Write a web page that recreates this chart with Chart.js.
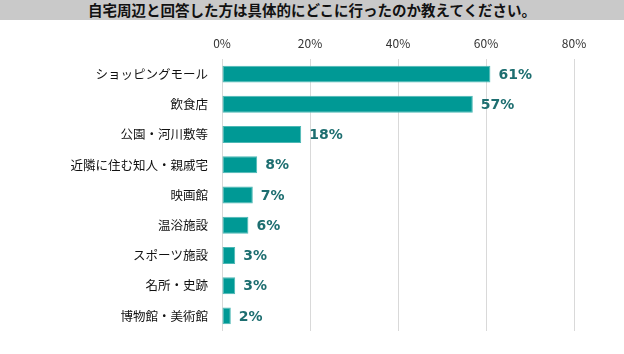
<!DOCTYPE html>
<html lang="ja">
<head>
    <meta charset="UTF-8">
    <title>自宅周辺と回答した方は具体的にどこに行ったのか教えてください。</title>
    <script src="https://cdn.jsdelivr.net/npm/chart.js"></script>
    <style>
        body {
            margin: 0;
            background: #fff;
            font-family: "Noto Sans CJK JP", sans-serif;
        }
        .titre {
            width: 624px;
            height: 20px;
            line-height: 20px;
            background-color: #c9c9c9;
            text-align: center;
            font-weight: bold;
            font-size: 14.5px;
            color: #111;
        }
        .grph {
            position: relative;
            width: 624px;
            height: 334px;
        }
    </style>
</head>
<body>
    <div class="titre">自宅周辺と回答した方は具体的にどこに行ったのか教えてください。</div>
    <div class="grph"><canvas id="myChart"></canvas></div>

    <script>
        // Données
        const categories = ['ショッピングモール', '飲食店', '公園・河川敷等', '近隣に住む知人・親戚宅', '映画館', '温浴施設', 'スポーツ施設', '名所・史跡', '博物館・美術館'];
        const valeurs = [61, 57, 18, 8, 7, 6, 3, 3, 2];
        const ticksX = [0, 20, 40, 60, 80];

        // Étiquettes de valeur à droite des barres
        const etiquettes = {
            id: 'etiquettes',
            afterDatasetsDraw(chart) {
                const ctx = chart.ctx;
                const meta = chart.getDatasetMeta(0);
                ctx.save();
                ctx.font = 'bold 14px "DejaVu Sans"';
                ctx.fillStyle = '#1d6e70';
                ctx.textAlign = 'left';
                ctx.textBaseline = 'middle';
                meta.data.forEach((bar, i) => {
                    ctx.fillText(valeurs[i] + '%', bar.x + 8, bar.y + 1);
                });
                ctx.restore();
            }
        };

        const ctx1 = document.getElementById('myChart').getContext('2d');
        const myChart = new Chart(ctx1, {
            type: 'bar',
            data: {
                labels: categories,
                datasets: [{
                    data: valeurs,
                    backgroundColor: '#009995',
                    borderColor: '#4db8b5',
                    borderWidth: 1,
                    borderSkipped: false,
                    barPercentage: 0.56,
                    categoryPercentage: 1
                }]
            },
            options: {
                indexAxis: 'y',
                responsive: true,
                maintainAspectRatio: false,
                animation: false,
                layout: {
                    padding: { top: 0, right: 50, bottom: 23, left: 0 }
                },
                plugins: {
                    legend: { display: false },
                    title: { display: false },
                    tooltip: { enabled: false }
                },
                scales: {
                    x: {
                        position: 'top',
                        min: 0,
                        max: 80,
                        afterFit: (scale) => { scale.height = 39; },
                        afterBuildTicks: (scale) => {
                            scale.ticks = ticksX.map(v => ({ value: v }));
                        },
                        grid: {
                            color: '#d9d9d9',
                            lineWidth: 1,
                            drawTicks: false
                        },
                        border: { display: false },
                        ticks: {
                            padding: 8,
                            color: '#333',
                            font: { family: '"Noto Sans CJK JP"', size: 12 },
                            callback: (v) => v + '%'
                        }
                    },
                    y: {
                        afterFit: (scale) => { scale.width = 222; },
                        grid: { display: false },
                        border: { display: false },
                        ticks: {
                            padding: 6,
                            color: '#111',
                            font: { family: '"Noto Sans CJK JP"', size: 12.5 }
                        }
                    }
                }
            },
            plugins: [etiquettes]
        });
    </script>
</body>
</html>
